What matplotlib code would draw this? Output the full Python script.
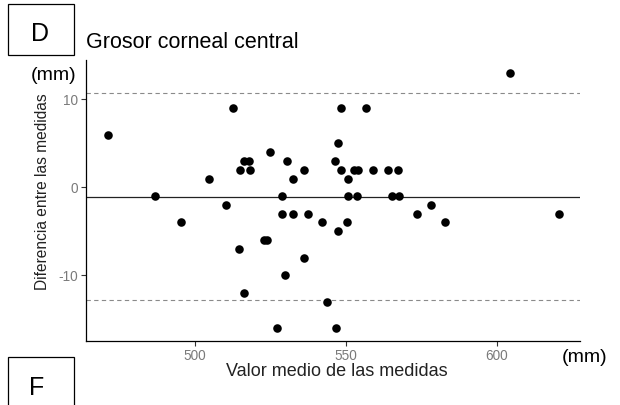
import matplotlib
matplotlib.use("Agg")
import matplotlib.pyplot as plt
from matplotlib.patches import Rectangle

plt.rcParams['font.family'] = ['Liberation Sans', 'DejaVu Sans']

# valor medio de las dos medidas (mm) y diferencia entre ellas
media = [471.1, 512.5, 486.7, 495.3, 504.5, 510.2, 515.0, 516.3, 517.8, 518.3,
         514.7, 516.2, 523.0, 524.0, 525.0, 527.2, 528.7, 528.7, 530.4, 529.9,
         532.5, 532.5, 536.0, 537.6, 536.0, 542.2, 543.7,
         548.5, 556.7, 547.3, 546.4, 548.3, 552.8, 554.1, 559.1, 563.9, 567.2,
         550.6, 550.6, 553.6, 565.4, 567.6, 550.3, 547.3, 573.5,
         578.1, 583.0, 620.5, 604.4, 546.7]
diferencia = [6, 9, -1, -4, 1, -2, 2, 3, 3, 2,
              -7, -12, -6, -6, 4, -16, -1, -3, 3, -10,
              1, -3, 2, -3, -8, -4, -13,
              9, 9, 5, 3, 2, 2, 2, 2, 2, 2,
              1, -1, -1, -1, -1, -4, -5, -3,
              -2, -4, -3, 13, -16]

sesgo = -1.07
limite_sup = 10.75
limite_inf = -12.8

xticks = [500, 550, 600]
yticks = [-10, 0, 10]

W, H = 620, 405
fig = plt.figure(figsize=(6.2, 4.05), dpi=100)

def fx(px):
    return px / W

def fy(py):
    return 1 - py / H

ax = fig.add_axes([fx(86), fy(341), fx(580) - fx(86), fy(60) - fy(341)])

ax.axhline(limite_sup, color='#8a8a8a', lw=0.8, dashes=(3.9, 3.0), zorder=1)
ax.axhline(limite_inf, color='#8a8a8a', lw=0.8, dashes=(3.9, 3.0), zorder=1)
ax.axhline(sesgo, color='#222222', lw=0.9, zorder=1)
ax.scatter(media, diferencia, s=38, color='black', linewidths=0, zorder=3)

ax.set_xlim(463.9, 627.6)
ax.set_ylim(-17.47, 14.47)
ax.set_xticks(xticks)
ax.set_yticks(yticks)
ax.set_yticklabels([str(t) for t in yticks])

for s in ['top', 'right']:
    ax.spines[s].set_visible(False)
for s in ['left', 'bottom']:
    ax.spines[s].set_color('black')
    ax.spines[s].set_linewidth(0.9)
ax.tick_params(axis='both', length=3.5, width=0.8, color='#333333',
               labelcolor='#7a7a7a', labelsize=9.8, pad=2.5)

# titulo y etiquetas
fig.text(fx(86), fy(48), 'Grosor corneal central', fontsize=15.5,
         ha='left', va='baseline')
fig.text(fx(43), fy(191.5), 'Diferencia entre las medidas', fontsize=11.2,
         rotation=90, ha='center', va='center', color='#222222')
fig.text(fx(337), fy(371), 'Valor medio de las medidas', fontsize=13,
         ha='center', va='center', color='#222222')
fig.text(fx(54), fy(75), '(mm)', fontsize=14, ha='center', va='center')
fig.text(fx(584.5), fy(357), '(mm)', fontsize=14, ha='center', va='center')

# recuadros de panel
fig.add_artist(Rectangle((fx(8), fy(55)), fx(74) - fx(8), fy(4) - fy(55),
                         transform=fig.transFigure, fill=False,
                         edgecolor='black', lw=0.9))
fig.text(fx(40), fy(34), 'D', fontsize=18, ha='center', va='center')
fig.add_artist(Rectangle((fx(8), fy(420)), fx(74) - fx(8), fy(357) - fy(420),
                         transform=fig.transFigure, fill=False,
                         edgecolor='black', lw=0.9, clip_on=False))
fig.text(fx(37), fy(388), 'F', fontsize=18, ha='center', va='center')

fig.savefig('out.png', dpi=100)
